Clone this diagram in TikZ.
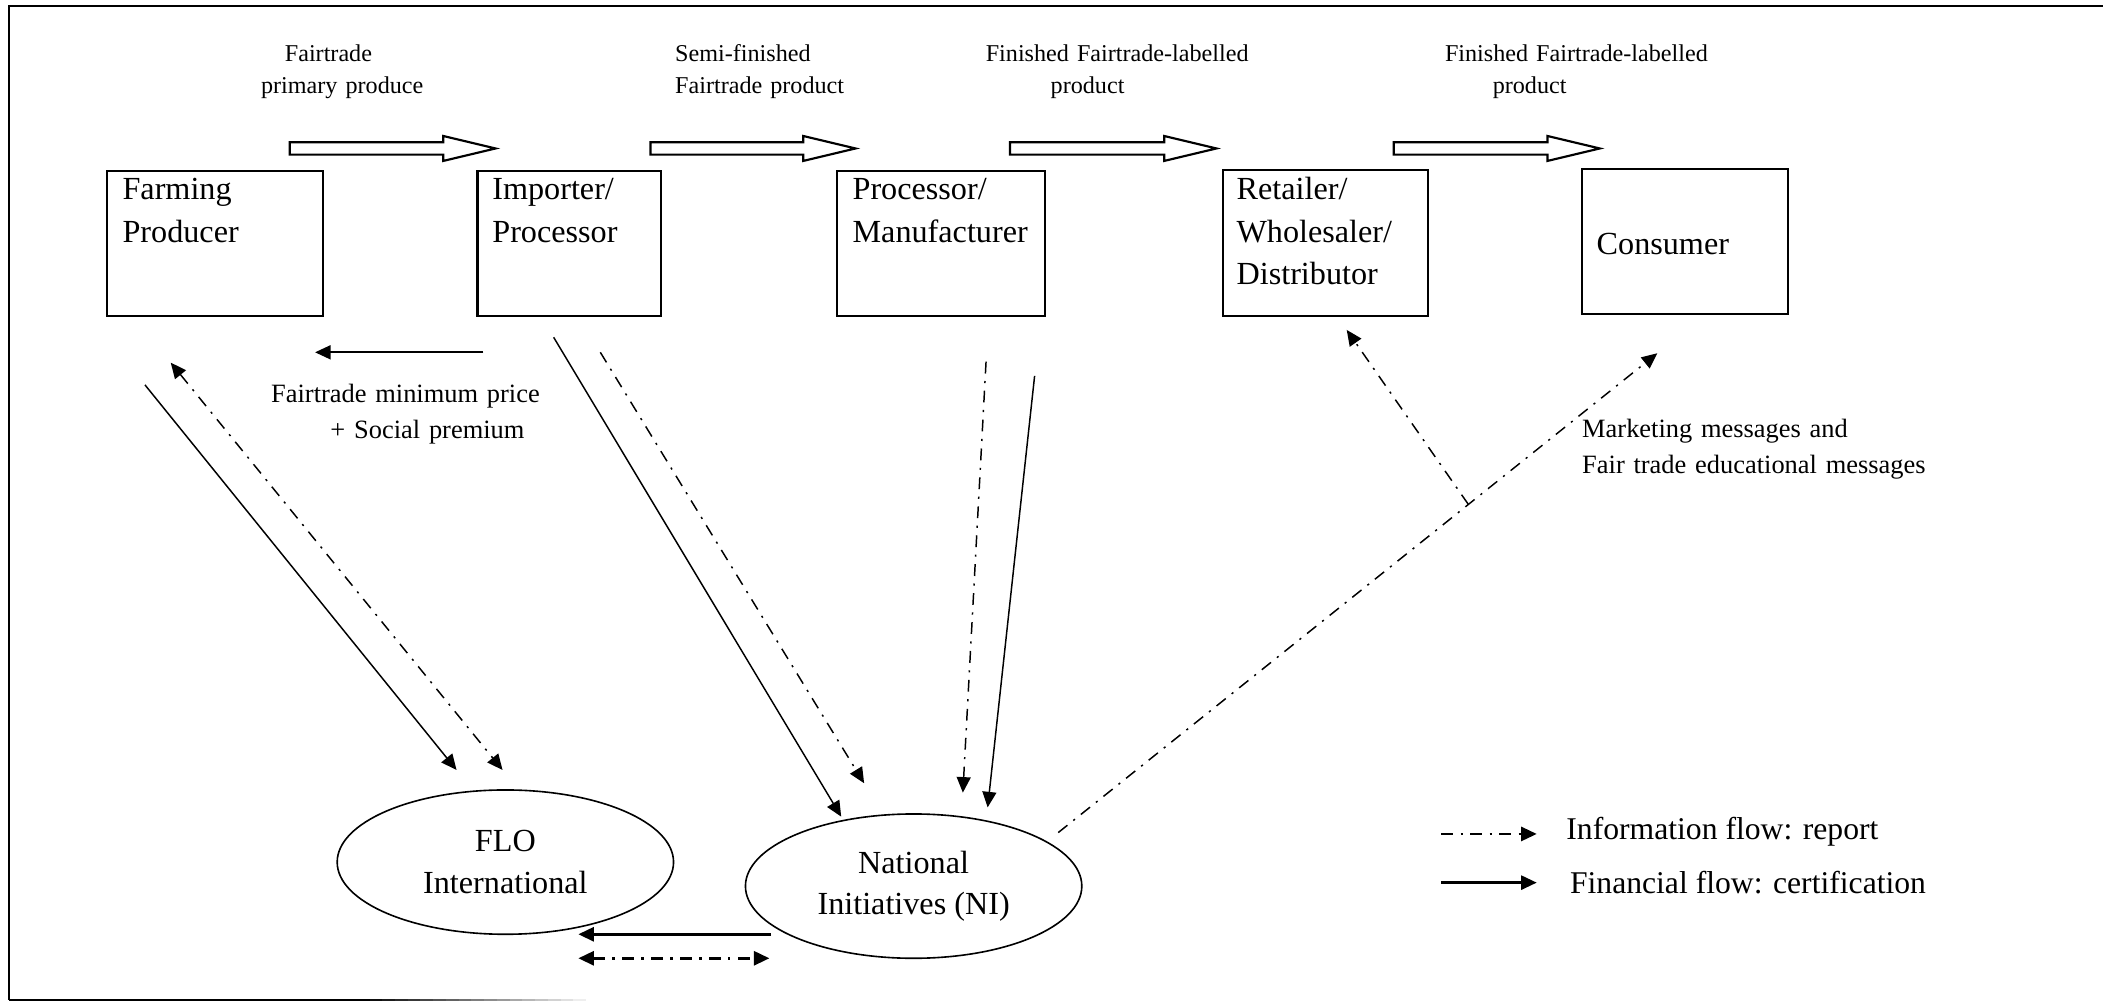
\documentclass[tikz,border=0pt]{standalone}
\usepackage{fontspec}
\setmainfont{Liberation Serif}
\usetikzlibrary{arrows.meta,shapes.geometric}
\begin{document}
\begin{tikzpicture}[x=0.5pt,y=-0.5pt,
  boxn/.style={draw,line width=0.8pt,inner sep=0pt,minimum height=54pt},
  btext/.style={anchor=base west,inner sep=0pt,text width=90pt,align=left,font=\fontsize{12}{15.8}\selectfont},
  ell/.style={ellipse,draw,line width=0.6pt,inner sep=0pt,minimum width=125.4pt,minimum height=53.8pt,align=center,font=\fontsize{12}{15.5}\selectfont},
  toplab/.style={anchor=base west,inner sep=0pt,text width=150pt,align=left,font=\fontsize{9}{11.8}\selectfont},
  midlab/.style={anchor=base west,inner sep=0pt,text width=200pt,align=left,font=\fontsize{9.85}{13.4}\selectfont},
  legtext/.style={anchor=base west,inner sep=0pt,font=\fontsize{11.8}{14}\selectfont},
  arrowtip/.style={-{Triangle[length=5.8pt,width=5.2pt]}},
  bothtips/.style={{Triangle[length=5.8pt,width=5.2pt]}-{Triangle[length=5.8pt,width=5.2pt]}},
  dashdot/.style={dash pattern=on 4.4pt off 2.8pt on 0.8pt off 2.8pt},
  finflow/.style={line width=0.55pt,arrowtip},
  infoflow/.style={line width=0.55pt,arrowtip,dashdot},
  hollow/.style={draw,line width=0.8pt,line join=miter},
]
\useasboundingbox (0,0) rectangle (1568,747);

% frame
\draw[line width=0.8pt] (6.7,745.6) -- (6.7,4.5) -- (1568,4.5);
\fill[black] (6.7,744.8) rectangle (266,746.4);
\foreach \i in {0,...,17}{
  \pgfmathsetmacro{\g}{100-\i*5.5}
  \fill[black!\g] (266+\i*9.5,744.8) rectangle (266+\i*9.5+9.6,746.4);
}

% boxes
\node[boxn,minimum width=80.5pt] (fp) at (160.5,181.5) {};
\node[boxn,minimum width=68.5pt] (ip) at (424.5,181.5) {};
\node[boxn,minimum width=77.5pt] (pm) at (701.5,181.5) {};
\node[boxn,minimum width=76.6pt,minimum height=54.5pt] (rw) at (988.2,181) {};
\node[boxn,minimum width=76.75pt] (co) at (1256.5,180) {};

\node[btext] (fpt) at (91,149) {Farming\\Producer};
\node[btext] (ipt) at (366.7,149) {Importer/\\Processor};
\node[btext] (pmt) at (635.3,149) {Processor/\\Manufacturer};
\node[btext] (rwt) at (921.6,149) {Retailer/\\Wholesaler/\\Distributor};
\node[btext] (cot) at (1190.1,190) {Consumer};

% ellipses
\node[ell] (flo) at (376.8,642.8) {FLO\\International};
\node[ell] (ni) at (681.2,660.7) {National\\Initiatives (NI)};

% top labels
\node[toplab] (l1) at (194.3,46) {\hspace*{8.85pt}Fairtrade\\primary produce};
\node[toplab] (l2) at (503,46) {Semi-finished\\Fairtrade product};
\node[toplab] (l3) at (734.6,46) {Finished Fairtrade-labelled\\\hspace*{24.2pt}product};
\node[toplab] (l4) at (1077,46) {Finished Fairtrade-labelled\\\hspace*{17.8pt}product};

% hollow product arrows
\foreach \xa/\xb in {216/369.5, 485/637.9, 753/907, 1039.2/1192.8}{
  \draw[hollow] (\xa,106.1) -- (\xb-39,106.1) -- (\xb-39,101.4) -- (\xb,110.7)
    -- (\xb-39,120) -- (\xb-39,115.3) -- (\xa,115.3) -- cycle;
}

% mid labels
\node[midlab] (price) at (201.8,300.2) {Fairtrade minimum price\\\hspace*{22.1pt}+ Social premium};
\node[midlab] (mkt) at (1179.3,326) {Marketing messages and\\Fair trade educational messages};

% coordinates for connectors
\coordinate (pa) at (360.4,262.7);
\coordinate (pb) at (234.9,262.7);
\coordinate (fa) at (108.1,287);
\coordinate (fb) at (340.4,574.1);
\coordinate (ga) at (127.3,270.4);
\coordinate (gb) at (374.7,574.1);
\coordinate (ia) at (412.8,251.5);
\coordinate (ib) at (627.2,608.9);
\coordinate (ja) at (447.6,262.7);
\coordinate (jb) at (644.3,584);
\coordinate (ka) at (735.2,269.7);
\coordinate (kb) at (717.9,591);
\coordinate (ma) at (771.4,280.3);
\coordinate (mb) at (736.4,602);
\coordinate (na) at (789,620.8);
\coordinate (nb) at (1235.7,263.4);
\coordinate (nbr) at (1094.8,376.1);
\coordinate (nr) at (1004.1,246);
\coordinate (ba) at (575,696.6);
\coordinate (bb) at (431.2,696.6);
\coordinate (ca) at (431.2,714.5);
\coordinate (cb) at (573.7,714.5);

% connectors
\draw[line width=0.7pt,arrowtip] (pa) -- (pb);
\draw[finflow] (fa) -- (fb);
\draw[line width=0.55pt,bothtips,dashdot] (ga) -- (gb);
\draw[finflow] (ia) -- (ib);
\draw[infoflow] (ja) -- (jb);
\draw[infoflow] (ka) -- (kb);
\draw[finflow] (ma) -- (mb);
\draw[infoflow] (na) -- (nb);
\draw[infoflow] (nbr) -- (nr);
\draw[line width=1.1pt,arrowtip] (ba) -- (bb);
\draw[line width=1.1pt,bothtips,dashdot] (ca) -- (cb);

% legend
\coordinate (lga) at (1074.6,621.8);
\coordinate (lgb) at (1145.8,621.8);
\coordinate (lha) at (1074.6,658.1);
\coordinate (lhb) at (1145.8,658.1);
\draw[line width=1pt,arrowtip,dashdot] (lga) -- (lgb);
\draw[line width=1pt,arrowtip] (lha) -- (lhb);
\node[legtext] (leg1) at (1167.5,625.8) {Information flow: report};
\node[legtext] (leg2) at (1170.2,666) {Financial flow: certification};
\end{tikzpicture}
\end{document}
